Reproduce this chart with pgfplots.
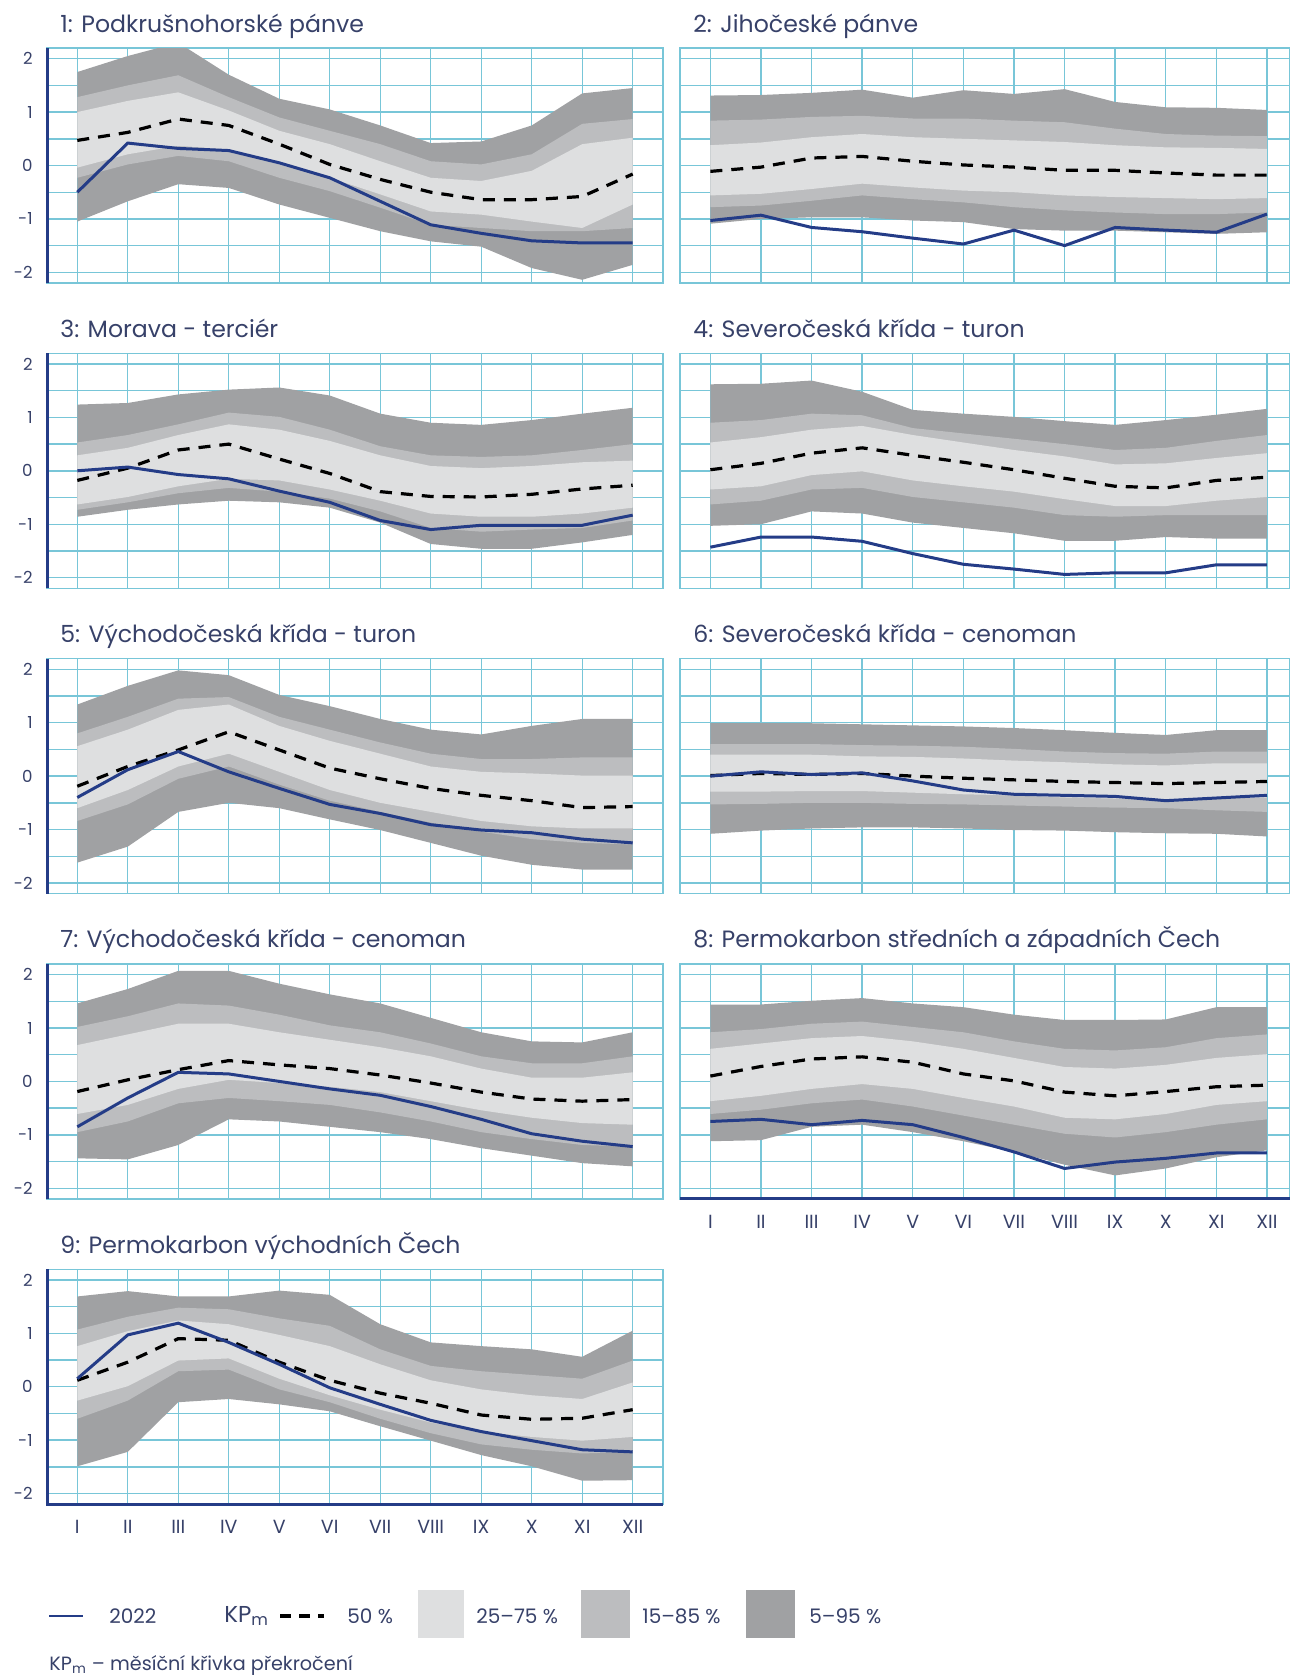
\documentclass[border=0pt]{standalone}
\usepackage{fontspec}
\setmainfont{Poppins}
\usepackage{pgfplots}
\pgfplotsset{compat=1.18}
\usepackage{pgfplotstable}
\usepgfplotslibrary{fillbetween}
\definecolor{gridc}{RGB}{120,198,216}
\definecolor{navy}{RGB}{36,60,135}
\definecolor{txt}{RGB}{55,65,105}
\definecolor{bdark}{RGB}{160,161,163}
\definecolor{bmid}{RGB}{188,189,191}
\definecolor{blight}{RGB}{222,223,224}

\pgfplotstableread{
m p5 p15 p25 p50 p75 p85 p95 y22
1 -1.05 -0.23 -0.04 0.47 1.00 1.28 1.75 -0.50
2 -0.67 0.02 0.21 0.62 1.21 1.50 2.05 0.42
3 -0.35 0.18 0.37 0.87 1.37 1.69 2.30 0.32
4 -0.42 0.08 0.30 0.75 1.03 1.28 1.70 0.28
5 -0.73 -0.23 0.02 0.40 0.65 0.90 1.25 0.05
6 -0.98 -0.48 -0.23 0.02 0.40 0.65 1.05 -0.23
7 -1.23 -0.79 -0.54 -0.26 0.08 0.40 0.75 -0.67
8 -1.42 -1.11 -0.86 -0.50 -0.23 0.08 0.42 -1.11
9 -1.52 -1.17 -0.92 -0.64 -0.29 0.02 0.45 -1.27
10 -1.92 -1.23 -1.05 -0.64 -0.10 0.21 0.75 -1.41
11 -2.14 -1.23 -1.17 -0.58 0.40 0.78 1.35 -1.45
12 -1.86 -1.17 -0.73 -0.16 0.52 0.87 1.45 -1.45
}\tA
\pgfplotstableread{
m p5 p15 p25 p50 p75 p85 p95 y22
1 -1.09 -0.78 -0.56 -0.11 0.38 0.84 1.31 -1.03
2 -1.00 -0.75 -0.53 -0.03 0.43 0.86 1.32 -0.93
3 -0.97 -0.66 -0.44 0.14 0.53 0.91 1.36 -1.16
4 -0.97 -0.56 -0.34 0.17 0.59 0.93 1.42 -1.24
5 -1.03 -0.63 -0.41 0.08 0.53 0.88 1.27 -1.36
6 -1.06 -0.69 -0.47 0.01 0.50 0.88 1.41 -1.47
7 -1.19 -0.78 -0.50 -0.03 0.47 0.84 1.34 -1.21
8 -1.22 -0.84 -0.56 -0.09 0.44 0.81 1.43 -1.50
9 -1.22 -0.88 -0.59 -0.09 0.38 0.69 1.19 -1.16
10 -1.25 -0.91 -0.61 -0.14 0.34 0.59 1.09 -1.21
11 -1.28 -0.91 -0.63 -0.18 0.33 0.56 1.08 -1.25
12 -1.25 -0.88 -0.61 -0.18 0.31 0.55 1.04 -0.91
}\tB
\pgfplotstableread{
m p5 p15 p25 p50 p75 p85 p95 y22
1 -0.86 -0.73 -0.63 -0.18 0.29 0.53 1.24 0.00
2 -0.73 -0.59 -0.49 0.05 0.43 0.67 1.27 0.07
3 -0.63 -0.42 -0.29 0.39 0.67 0.87 1.43 -0.07
4 -0.56 -0.32 -0.15 0.50 0.87 1.09 1.52 -0.15
5 -0.59 -0.39 -0.18 0.22 0.77 1.01 1.56 -0.38
6 -0.69 -0.52 -0.35 -0.05 0.56 0.77 1.41 -0.59
7 -0.97 -0.76 -0.56 -0.39 0.29 0.46 1.07 -0.93
8 -1.37 -1.07 -0.80 -0.48 0.09 0.29 0.90 -1.10
9 -1.46 -1.14 -0.86 -0.49 0.05 0.26 0.86 -1.02
10 -1.46 -1.10 -0.86 -0.44 0.09 0.29 0.95 -1.02
11 -1.34 -1.07 -0.80 -0.34 0.16 0.39 1.07 -1.02
12 -1.20 -0.93 -0.69 -0.27 0.19 0.50 1.18 -0.83
}\tC
\pgfplotstableread{
m p5 p15 p25 p50 p75 p85 p95 y22
1 -1.03 -0.63 -0.35 0.02 0.53 0.90 1.62 -1.43
2 -1.00 -0.56 -0.29 0.14 0.63 0.95 1.63 -1.24
3 -0.76 -0.35 -0.08 0.33 0.77 1.07 1.69 -1.24
4 -0.80 -0.32 -0.01 0.43 0.84 1.04 1.48 -1.32
5 -0.97 -0.49 -0.18 0.29 0.67 0.80 1.14 -1.55
6 -1.07 -0.59 -0.29 0.16 0.53 0.70 1.07 -1.75
7 -1.17 -0.69 -0.39 0.02 0.39 0.60 1.01 -1.84
8 -1.31 -0.83 -0.53 -0.14 0.27 0.50 0.93 -1.94
9 -1.31 -0.86 -0.66 -0.29 0.12 0.39 0.86 -1.91
10 -1.24 -0.83 -0.66 -0.32 0.14 0.43 0.95 -1.91
11 -1.27 -0.83 -0.56 -0.18 0.24 0.56 1.05 -1.76
12 -1.27 -0.83 -0.49 -0.12 0.33 0.67 1.16 -1.76
}\tD
\pgfplotstableread{
m p5 p15 p25 p50 p75 p85 p95 y22
1 -1.62 -0.84 -0.60 -0.19 0.56 0.80 1.34 -0.40
2 -1.32 -0.53 -0.26 0.18 0.87 1.11 1.69 0.12
3 -0.67 -0.05 0.18 0.49 1.24 1.45 1.98 0.46
4 -0.50 0.18 0.42 0.83 1.34 1.48 1.89 0.08
5 -0.60 -0.16 0.08 0.49 0.94 1.11 1.52 -0.23
6 -0.81 -0.46 -0.26 0.15 0.66 0.87 1.31 -0.53
7 -1.01 -0.67 -0.50 -0.05 0.42 0.63 1.07 -0.70
8 -1.25 -0.87 -0.67 -0.23 0.18 0.42 0.87 -0.91
9 -1.49 -1.04 -0.84 -0.36 0.08 0.32 0.78 -1.01
10 -1.66 -1.18 -0.94 -0.46 0.05 0.32 0.94 -1.06
11 -1.75 -1.25 -0.98 -0.59 0.01 0.35 1.07 -1.18
12 -1.75 -1.28 -0.98 -0.57 0.01 0.35 1.07 -1.25
}\tE
\pgfplotstableread{
m p5 p15 p25 p50 p75 p85 p95 y22
1 -1.08 -0.53 -0.29 0.01 0.40 0.60 0.99 0.00
2 -1.02 -0.52 -0.29 0.05 0.40 0.60 0.99 0.08
3 -0.98 -0.50 -0.28 0.03 0.40 0.60 0.99 0.03
4 -0.96 -0.50 -0.28 0.05 0.37 0.58 0.97 0.06
5 -0.96 -0.52 -0.31 0.00 0.36 0.57 0.95 -0.09
6 -0.98 -0.53 -0.34 -0.04 0.33 0.55 0.93 -0.26
7 -1.01 -0.55 -0.36 -0.07 0.29 0.51 0.90 -0.34
8 -1.02 -0.57 -0.40 -0.10 0.26 0.46 0.86 -0.36
9 -1.05 -0.59 -0.42 -0.12 0.22 0.43 0.81 -0.38
10 -1.07 -0.60 -0.43 -0.14 0.20 0.42 0.77 -0.46
11 -1.08 -0.64 -0.42 -0.12 0.24 0.46 0.86 -0.41
12 -1.13 -0.67 -0.40 -0.10 0.24 0.46 0.86 -0.36
}\tF
\pgfplotstableread{
m p5 p15 p25 p50 p75 p85 p95 y22
1 -1.44 -0.95 -0.61 -0.19 0.68 1.02 1.46 -0.85
2 -1.46 -0.75 -0.44 0.03 0.88 1.22 1.73 -0.31
3 -1.19 -0.41 -0.14 0.22 1.08 1.46 2.07 0.17
4 -0.71 -0.31 0.03 0.39 1.08 1.42 2.07 0.14
5 -0.75 -0.37 -0.03 0.31 0.92 1.25 1.83 0.00
6 -0.85 -0.44 -0.10 0.24 0.78 1.05 1.63 -0.14
7 -0.95 -0.58 -0.20 0.12 0.64 0.92 1.46 -0.26
8 -1.08 -0.75 -0.37 -0.03 0.47 0.71 1.19 -0.47
9 -1.25 -0.95 -0.54 -0.20 0.24 0.47 0.92 -0.71
10 -1.39 -1.08 -0.68 -0.33 0.07 0.34 0.75 -0.98
11 -1.53 -1.19 -0.78 -0.37 0.07 0.34 0.73 -1.12
12 -1.59 -1.22 -0.81 -0.34 0.17 0.47 0.92 -1.22
}\tG
\pgfplotstableread{
m p5 p15 p25 p50 p75 p85 p95 y22
1 -1.12 -0.61 -0.37 0.10 0.61 0.92 1.44 -0.75
2 -1.10 -0.53 -0.27 0.28 0.71 0.98 1.44 -0.71
3 -0.85 -0.41 -0.14 0.42 0.81 1.08 1.51 -0.81
4 -0.81 -0.34 -0.05 0.46 0.85 1.12 1.56 -0.73
5 -0.95 -0.47 -0.14 0.36 0.75 1.02 1.46 -0.81
6 -1.12 -0.64 -0.31 0.14 0.61 0.92 1.39 -1.05
7 -1.32 -0.81 -0.47 0.01 0.44 0.75 1.25 -1.32
8 -1.56 -0.98 -0.68 -0.20 0.27 0.61 1.15 -1.63
9 -1.76 -1.05 -0.71 -0.27 0.24 0.58 1.15 -1.51
10 -1.63 -0.95 -0.61 -0.19 0.31 0.64 1.16 -1.44
11 -1.42 -0.81 -0.44 -0.10 0.44 0.81 1.39 -1.34
12 -1.29 -0.71 -0.37 -0.07 0.51 0.88 1.39 -1.34
}\tH
\pgfplotstableread{
m p5 p15 p25 p50 p75 p85 p95 y22
1 -1.49 -0.60 -0.26 0.12 0.76 1.07 1.69 0.15
2 -1.22 -0.26 0.01 0.46 1.04 1.31 1.79 0.97
3 -0.29 0.29 0.49 0.90 1.24 1.48 1.69 1.19
4 -0.23 0.32 0.53 0.87 1.17 1.45 1.69 0.83
5 -0.33 -0.05 0.15 0.46 0.97 1.28 1.80 0.42
6 -0.46 -0.29 -0.16 0.12 0.76 1.14 1.72 -0.02
7 -0.74 -0.60 -0.43 -0.12 0.42 0.70 1.17 -0.33
8 -1.01 -0.87 -0.67 -0.31 0.12 0.39 0.83 -0.63
9 -1.28 -1.08 -0.84 -0.53 -0.05 0.29 0.76 -0.84
10 -1.49 -1.18 -0.94 -0.61 -0.16 0.22 0.70 -1.01
11 -1.76 -1.25 -1.01 -0.59 -0.23 0.15 0.56 -1.18
12 -1.75 -1.22 -0.94 -0.43 0.08 0.49 1.05 -1.22
}\tI

\newcommand\bands[1]{%
 \addplot[draw=none, name path=u1] table[x=m,y=p95]{#1};
 \addplot[draw=none, name path=l1] table[x=m,y=p5]{#1};
 \addplot[fill=bdark, draw=none] fill between[of=u1 and l1];
 \addplot[draw=none, name path=u2] table[x=m,y=p85]{#1};
 \addplot[draw=none, name path=l2] table[x=m,y=p15]{#1};
 \addplot[fill=bmid, draw=none] fill between[of=u2 and l2];
 \addplot[draw=none, name path=u3] table[x=m,y=p75]{#1};
 \addplot[draw=none, name path=l3] table[x=m,y=p25]{#1};
 \addplot[fill=blight, draw=none] fill between[of=u3 and l3];
 \addplot[black, line width=1.6pt, dash pattern=on 6pt off 4.5pt] table[x=m,y=p50]{#1};
 \addplot[navy, line width=1.5pt] table[x=m,y=y22]{#1};
}

\pgfplotsset{
 panel/.style={
   scale only axis, height=117.5pt,
   xmin=0.4, ymin=-2.2, ymax=2.2,
   xtick={1,...,12}, ytick={-2,-1,0,1,2}, minor ytick={-1.5,-0.5,0.5,1.5},
   grid=both,
   major grid style={gridc, line width=0.7pt},
   minor grid style={gridc, line width=0.7pt},
   axis line style={gridc, line width=0.7pt},
   major tick length=0pt, minor tick length=0pt,
   xticklabels={}, yticklabels={},
   tick label style={text=txt},
   yticklabel style={font=\fontsize{8.3}{9}\selectfont, inner sep=0pt, xshift=-7pt},
   xticklabel style={font=\fontsize{9.5}{10}\selectfont, inner sep=0pt, yshift=-8pt},
   title style={at={(0,1)}, anchor=base west, xshift=6.5pt, yshift=2pt,
     font=\fontsize{11.8}{13}\selectfont, text=txt, inner sep=0pt},
   anchor=north west,
 },
 c1/.style={panel, width=308pt, xmax=12.6, yticklabels={-2,-1,0,1,2}},
 c2/.style={panel, width=305pt, xmax=12.455},
 months/.style={xticklabels={I,II,III,IV,V,VI,VII,VIII,IX,X,XI,XII}},
}

\begin{document}
\begin{tikzpicture}

\begin{axis}[c1, name=p1, at={(23.5pt,-24pt)}, title={1: Podkrušnohorské pánve}]
\bands{\tA}
\end{axis}
\begin{axis}[c2, at={(340pt,-24pt)}, title={2: Jihočeské pánve}]
\bands{\tB}
\end{axis}

\begin{axis}[c1, name=p3, at={(23.5pt,-176.65pt)}, title={3: Morava - terciér}]
\bands{\tC}
\end{axis}
\begin{axis}[c2, at={(340pt,-176.65pt)}, title={4: Severočeská křída - turon}]
\bands{\tD}
\end{axis}

\begin{axis}[c1, name=p5, at={(23.5pt,-329.3pt)}, title={5: Východočeská křída - turon}]
\bands{\tE}
\end{axis}
\begin{axis}[c2, at={(340pt,-329.3pt)}, title={6: Severočeská křída - cenoman}]
\bands{\tF}
\end{axis}

\begin{axis}[c1, name=p7, at={(23.5pt,-481.95pt)}, title={7: Východočeská křída - cenoman}]
\bands{\tG}
\end{axis}
\begin{axis}[c2, months, name=p8, at={(340pt,-481.95pt)}, title={8: Permokarbon středních a západních Čech}]
\bands{\tH}
\end{axis}

\begin{axis}[c1, months, name=p9, at={(23.5pt,-634.6pt)}, title={9: Permokarbon východních Čech}]
\bands{\tI}
\end{axis}

\foreach \p in {p1,p3,p5,p7}
  \draw[navy, line width=1.5pt] (\p.north west) -- (\p.south west);
\draw[navy, line width=1.5pt] (p9.north west) -- (p9.south west) -- (p9.south east);
\draw[navy, line width=1.5pt] (p8.south west) -- (p8.south east);

% legend
\begin{scope}[every node/.style={text=txt, inner sep=0pt}]
\draw[navy, line width=1.4pt] (24.5pt,-808pt) -- (41.5pt,-808pt);
\node[anchor=west, font=\fontsize{10}{11}\selectfont] at (54.5pt,-808pt) {2022};
\node[anchor=west, font=\fontsize{11.5}{12}\selectfont] at (112pt,-808pt) {KP\textsubscript{m}};
\draw[black, line width=1.6pt, dash pattern=on 5.5pt off 4pt] (140pt,-808pt) -- (162pt,-808pt);
\node[anchor=west, font=\fontsize{10}{11}\selectfont] at (173.5pt,-808pt) {50 \%};
\fill[blight] (209pt,-795pt) rectangle (232pt,-819pt);
\node[anchor=west, font=\fontsize{10}{11}\selectfont] at (238pt,-808pt) {25–75 \%};
\fill[bmid] (290.5pt,-795pt) rectangle (315pt,-819pt);
\node[anchor=west, font=\fontsize{10}{11}\selectfont] at (321pt,-808pt) {15–85 \%};
\fill[bdark] (373pt,-795pt) rectangle (397.5pt,-819pt);
\node[anchor=west, font=\fontsize{10}{11}\selectfont] at (404.5pt,-808pt) {5–95 \%};
\node[anchor=base west, font=\fontsize{9.6}{10}\selectfont] at (24.5pt,-835pt) {KP\textsubscript{m} – měsíční křivka překročení};
\end{scope}

\pgfresetboundingbox
\useasboundingbox (0,0) rectangle (645pt,-838.5pt);
\end{tikzpicture}
\end{document}
